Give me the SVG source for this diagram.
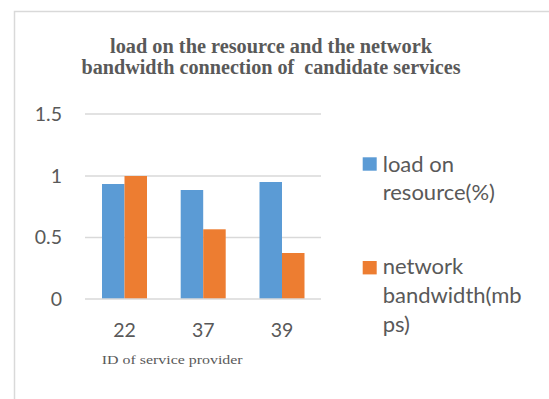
<svg xmlns="http://www.w3.org/2000/svg" width="549" height="399" viewBox="0 0 549 399">
<style>
.grid{stroke:#D9D9D9;stroke-width:1.3}
.ax{font-family:Lato,"Open Sans",sans-serif;font-size:19.5px;fill:#595959}
.lg{font-family:Lato,"Open Sans",sans-serif;font-size:22px;fill:#595959}
.ttl{font-family:"Liberation Serif","Times New Roman",serif;font-weight:bold;font-size:20px;fill:#595959}
.xt{font-family:"Liberation Serif","Times New Roman",serif;font-size:13px;fill:#595959}
.b{fill:#5B9BD5}
.o{fill:#ED7D31}
</style>
<rect x="0" y="0" width="549" height="399" fill="#fff"/>
<path d="M14.5 399 V11.5 H549" fill="none" stroke="#D9D9D9" stroke-width="1.5"/>
<g id="title">
<text class="ttl" x="271" y="53" text-anchor="middle" textLength="322" lengthAdjust="spacingAndGlyphs">load on the resource and the network</text>
<text class="ttl" x="271" y="73.5" text-anchor="middle" textLength="379" lengthAdjust="spacingAndGlyphs" xml:space="preserve">bandwidth connection of  candidate services</text>
</g>
<g id="gridlines">
<line class="grid" x1="85" y1="114" x2="321" y2="114"/>
<line class="grid" x1="85" y1="176" x2="321" y2="176"/>
<line class="grid" x1="85" y1="237.5" x2="321" y2="237.5"/>
</g>
<g id="bars">
<rect class="b" x="102" y="184" width="22.5" height="115"/>
<rect class="o" x="124.5" y="176" width="22.5" height="123"/>
<rect class="b" x="180.7" y="190" width="22.5" height="109"/>
<rect class="o" x="203.2" y="229.3" width="22.5" height="69.7"/>
<rect class="b" x="259.5" y="182" width="22.5" height="117"/>
<rect class="o" x="282" y="253" width="22.5" height="46"/>
</g>
<line class="grid" x1="85" y1="299" x2="321" y2="299"/>
<g id="yaxis">
<text class="ax" x="62" y="120.7" text-anchor="end">1.5</text>
<text class="ax" x="62" y="182.7" text-anchor="end">1</text>
<text class="ax" x="62" y="244" text-anchor="end">0.5</text>
<text class="ax" x="62" y="305.7" text-anchor="end">0</text>
</g>
<g id="xaxis">
<text class="ax" x="124.5" y="337.3" text-anchor="middle">22</text>
<text class="ax" x="203.2" y="337.3" text-anchor="middle">37</text>
<text class="ax" x="282" y="337.3" text-anchor="middle">39</text>
<text class="xt" x="101.7" y="364" textLength="141" lengthAdjust="spacingAndGlyphs">ID of service provider</text>
</g>
<g id="legend">
<rect class="b" x="362.7" y="157.3" width="14" height="13.4"/>
<text class="lg" x="382.7" y="171.7">load on</text>
<text class="lg" x="382.7" y="200">resource(%)</text>
<rect class="o" x="362.7" y="261" width="14" height="13.4"/>
<text class="lg" x="382.7" y="274">network</text>
<text class="lg" x="382.7" y="303">bandwidth(mb</text>
<text class="lg" x="382.7" y="331.7">ps)</text>
</g>
</svg>
